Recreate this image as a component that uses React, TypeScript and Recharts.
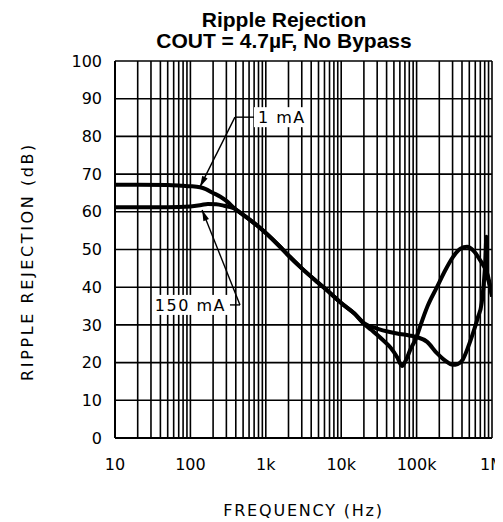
import React from 'react';
import { CartesianGrid, Line, LineChart, ReferenceDot, ReferenceLine, XAxis, YAxis } from 'recharts';

// 1 mA curve (flat at 67 dB, dips near 300k)
const freq1mA = [
  10, 20, 50, 80, 100, 134, 160, 200, 250, 300, 400, 500, 700, 1000, 1500, 2000, 3000, 5000, 7000,
  10000, 15000, 20000, 30000, 44000, 60000, 80000, 100000, 138000, 186000, 240000, 303000, 350000,
  410000, 480000, 560000, 650000, 730000, 808000, 845000, 858000, 920000, 1000000,
];
const rej1mA = [
  67.2, 67.2, 67.1, 66.9, 66.8, 66.5, 66.0, 65.0, 64.0, 62.9, 60.6, 59.2, 57.0, 54.4, 51.0, 48.4, 45.0, 41.1, 38.6,
  35.8, 33.0, 30.5, 29.0, 28.1, 27.6, 27.2, 26.8, 25.5, 22.5, 20.5, 19.4, 19.6,
  20.8, 24.0, 27.8, 32.0, 35.8, 45.4, 53.4, 43.5, 41.0, 38.0,
];

// 150 mA curve (flat at 61 dB, dips near 65k)
const freq150mA = [
  10, 20, 50, 100, 140, 170, 220, 280, 367, 400, 500, 700, 1000, 1500, 2000, 3000, 5000, 7000,
  10000, 15000, 19500, 25000, 35700, 45000, 55000, 64000, 72000, 82000, 100000, 111000, 140000,
  186000, 240000, 303000, 380000, 467000, 560000, 693000, 890000, 1000000,
];
const rej150mA = [
  61.2, 61.2, 61.2, 61.4, 61.8, 62.1, 62.0, 61.6, 61.0, 60.6, 59.2, 57.0, 54.4, 51.0, 48.4, 45.0, 41.1, 38.6,
  35.8, 33.0, 30.5, 28.7, 26.0, 24.0, 21.5, 19.1, 20.6, 23.3, 26.8, 29.5, 35.0,
  40.0, 44.5, 48.0, 50.2, 50.7, 49.8, 47.2, 42.7, 37.5,
];

const decades = [10, 100, 1000, 10000, 100000];
const gridSteps = [1, 2, 3, 4, 5, 6, 7, 8, 9];
const freqTicks = [...decades.flatMap((d) => gridSteps.map((m) => m * d)), 1000000];
const freqLabels: Record<number, string> = {
  10: '10', 100: '100', 1000: '1k', 10000: '10k', 100000: '100k', 1000000: '1M',
};
const dbTicks = [0, 10, 20, 30, 40, 50, 60, 70, 80, 90, 100];

// callouts: arrow tip, elbow, end of leader
const note1mA = { text: '1 mA', tip: { x: 134, y: 66.6 }, elbow: { x: 390, y: 85.1 }, end: { x: 741, y: 85.1 } };
const note150mA = { text: '150 mA', tip: { x: 143, y: 60.5 }, elbow: { x: 455, y: 35.3 }, end: { x: 315, y: 35.3 } };

const data1mA = freq1mA.map((f, i) => ({ f, db: rej1mA[i] }));
const data150mA = freq150mA.map((f, i) => ({ f, db: rej150mA[i] }));

const font = 'DejaVu Sans';

const Arrow = (props: any) => {
  const { x1, y1, x2, y2 } = props;
  const a = Math.atan2(y1 - y2, x1 - x2);
  const bx = x1 - 11 * Math.cos(a);
  const by = y1 - 11 * Math.sin(a);
  const px = -Math.sin(a) * 3;
  const py = Math.cos(a) * 3;
  return (
    <g>
      <line x1={x1} y1={y1} x2={x2} y2={y2} stroke="#000" strokeWidth={1.4} />
      <polygon points={`${x1},${y1} ${bx + px},${by + py} ${bx - px},${by - py}`} fill="#000" />
    </g>
  );
};

const Leader = (props: any) => {
  const { x1, y1, x2, y2 } = props;
  return <line x1={x1} y1={y1} x2={x2} y2={y2} stroke="#000" strokeWidth={1.4} />;
};

const Callout = (props: any) => {
  const { cx, cy, text, anchor } = props;
  const w = text.length * 11.5 + 6;
  const x0 = anchor === 'start' ? cx - 2 : cx - w + 2;
  return (
    <g>
      <rect x={x0} y={cy - 10} width={w} height={20} fill="#fff" />
      <text
        x={anchor === 'start' ? cx + 2 : cx - 2}
        y={cy + 6}
        textAnchor={anchor}
        fontFamily={font}
        fontSize={16}
        letterSpacing={1.5}
        fill="#000"
      >
        {text}
      </text>
    </g>
  );
};

const YTitle = (props: any) => {
  const { x, y, height } = props.viewBox;
  return (
    <text
      transform={`translate(${x + 25}, ${y + height / 2 + 12}) rotate(-90)`}
      textAnchor="middle"
      fontFamily={font}
      fontSize={16}
      letterSpacing={2.6}
      fill="#000"
    >
      RIPPLE REJECTION (dB)
    </text>
  );
};

const W = 495;
const H = 514;

const App = () => {
  return (
    <div style={{ position: 'relative', width: W, height: H }}>
      <svg width={W} height={60} style={{ position: 'absolute', left: 0, top: 0 }}>
        <text x={276} y={19} textAnchor="middle" fontFamily="Liberation Sans" fontWeight="bold" fontSize={21}>
          Ripple Rejection
        </text>
        <text x={276} y={40} textAnchor="middle" fontFamily="Liberation Sans" fontWeight="bold" fontSize={21}>
          COUT = 4.7µF, No Bypass
        </text>
      </svg>
      <LineChart width={W} height={H} margin={{ top: 53, right: 11, bottom: 0, left: 0 }}>
        <CartesianGrid stroke="#000" strokeWidth={1.6} />
        <XAxis
          dataKey="f"
          type="number"
          scale="log"
          domain={[10, 1000000]}
          allowDataOverflow
          ticks={freqTicks}
          interval={0}
          tickFormatter={(v: number) => freqLabels[v] ?? ''}
          tickLine={false}
          tickSize={0}
          tickMargin={21}
          height={84}
          axisLine={{ stroke: '#000', strokeWidth: 2 }}
          tick={{ fill: '#000', fontSize: 16, fontFamily: font }}
          label={{
            value: 'FREQUENCY (Hz)',
            position: 'insideBottom',
            offset: 6,
            fill: '#000',
            fontSize: 16,
            fontFamily: font,
            style: { letterSpacing: '1.8px' },
          }}
        />
        <YAxis
          type="number"
          domain={[0, 100]}
          ticks={dbTicks}
          interval={0}
          width={107}
          tickLine={false}
          tickSize={0}
          tickMargin={13}
          axisLine={{ stroke: '#000', strokeWidth: 2 }}
          tick={{ fill: '#000', fontSize: 16, fontFamily: font }}
          label={<YTitle />}
        />
        <Line
          data={data1mA}
          type="monotone"
          dataKey="db"
          stroke="#000"
          strokeWidth={4}
          dot={false}
          isAnimationActive={false}
        />
        <Line
          data={data150mA}
          type="monotone"
          dataKey="db"
          stroke="#000"
          strokeWidth={4}
          dot={false}
          isAnimationActive={false}
        />
        <ReferenceDot
          x={note1mA.end.x}
          y={note1mA.end.y}
          shape={(p: any) => <Callout {...p} text={note1mA.text} anchor="start" />}
        />
        <ReferenceDot
          x={note150mA.end.x}
          y={note150mA.end.y}
          shape={(p: any) => <Callout {...p} text={note150mA.text} anchor="end" />}
        />
        <ReferenceLine segment={[note1mA.tip, note1mA.elbow]} shape={<Arrow />} />
        <ReferenceLine segment={[note1mA.elbow, note1mA.end]} shape={<Leader />} />
        <ReferenceLine segment={[note150mA.tip, note150mA.elbow]} shape={<Arrow />} />
        <ReferenceLine segment={[note150mA.elbow, note150mA.end]} shape={<Leader />} />
      </LineChart>
    </div>
  );
};

export default App;
